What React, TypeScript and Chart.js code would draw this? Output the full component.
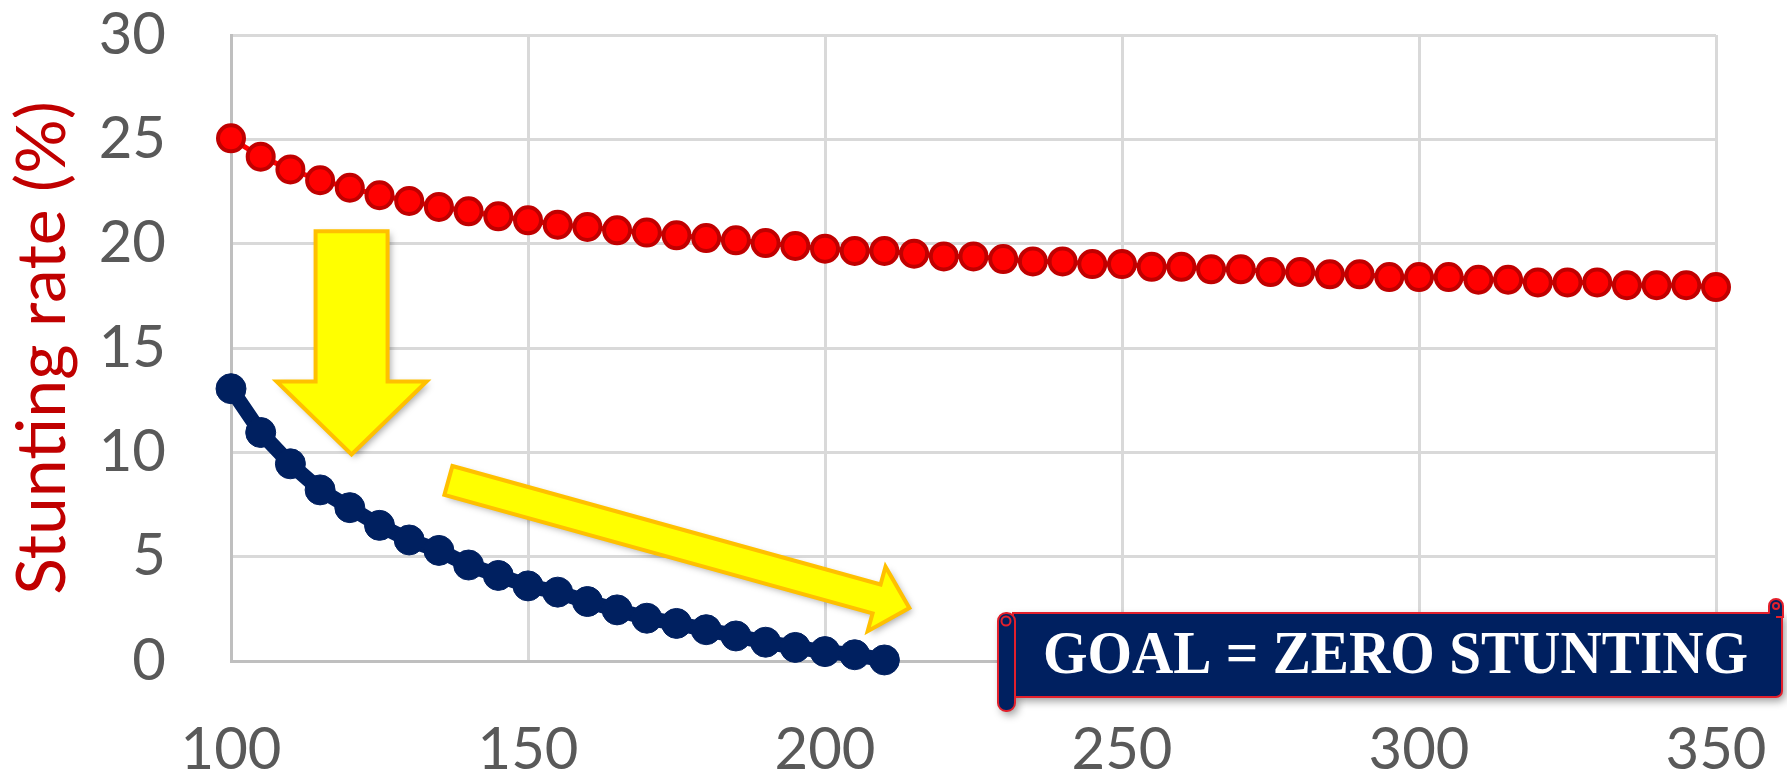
import React, { useEffect, useRef } from "react";
import { Chart, registerables } from "chart.js";

Chart.register(...registerables);

// Intervention dose on the x axis, stunting rate (%) on the y axis.
const doses = [
  100, 105, 110, 115, 120, 125, 130, 135, 140, 145, 150, 155, 160, 165, 170, 175, 180,
  185, 190, 195, 200, 205, 210, 215, 220, 225, 230, 235, 240, 245, 250, 255, 260, 265,
  270, 275, 280, 285, 290, 295, 300, 305, 310, 315, 320, 325, 330, 335, 340, 345, 350,
];
const currentRates = [
  25.05, 24.17, 23.56, 23.04, 22.68, 22.32, 22.05, 21.76, 21.55, 21.31, 21.12, 20.91,
  20.8, 20.64, 20.53, 20.4, 20.27, 20.16, 20.03, 19.89, 19.76, 19.65, 19.65, 19.52,
  19.39, 19.39, 19.26, 19.15, 19.15, 19.02, 19.02, 18.89, 18.89, 18.77, 18.77, 18.64,
  18.64, 18.53, 18.53, 18.4, 18.4, 18.4, 18.27, 18.27, 18.14, 18.14, 18.14, 18.01,
  18.01, 18.01, 17.92,
];
const targetDoses = [
  100, 105, 110, 115, 120, 125, 130, 135, 140, 145, 150, 155, 160, 165, 170, 175, 180,
  185, 190, 195, 200, 205, 210,
];
const targetRates = [
  13.05, 10.95, 9.45, 8.2, 7.35, 6.5, 5.8, 5.3, 4.6, 4.1, 3.6, 3.3, 2.85, 2.45, 2.05,
  1.8, 1.5, 1.2, 0.9, 0.65, 0.45, 0.3, 0.05,
];
const xTickValues = [100, 150, 200, 250, 300, 350];
const yTickValues = [0, 5, 10, 15, 20, 25, 30];

const Y_TITLE = "Stunting rate (%)";
const BANNER_TEXT = "GOAL = ZERO STUNTING";

const W = 1787;
const H = 780;

// Callout geometry, anchored to data coordinates where it points at the curves.
const DOWN_ARROW = { x: 120.3, top: 20.6, headBase: 13.4, tip: 9.9, shaftHalf: 36, headHalf: 75 };
const SLOPE_ARROW = { fromX: 136.6, fromY: 8.65, toX: 214.2, toY: 2.54, shaftHalf: 15, headHalf: 33.5, headLen: 34 };

const ARROW_FILL = "#FFFF00";
const ARROW_EDGE = "#FFC000";
const NAVY = "#002060";
const SCROLL_EDGE = "#E3202C";

function drawPoly(ctx: CanvasRenderingContext2D, pts: number[][]) {
  ctx.beginPath();
  ctx.moveTo(pts[0][0], pts[0][1]);
  for (let i = 1; i < pts.length; i++) ctx.lineTo(pts[i][0], pts[i][1]);
  ctx.closePath();
}

function paintArrow(ctx: CanvasRenderingContext2D, pts: number[][]) {
  ctx.save();
  ctx.shadowColor = "rgba(0,0,0,0.35)";
  ctx.shadowBlur = 7;
  ctx.shadowOffsetX = 3;
  ctx.shadowOffsetY = 3;
  drawPoly(ctx, pts);
  ctx.fillStyle = ARROW_FILL;
  ctx.fill();
  ctx.restore();
  ctx.save();
  drawPoly(ctx, pts);
  ctx.lineJoin = "miter";
  ctx.lineWidth = 4;
  ctx.strokeStyle = ARROW_EDGE;
  ctx.stroke();
  ctx.restore();
}

function roundRectPath(ctx: CanvasRenderingContext2D, x: number, y: number, w: number, h: number, r: number) {
  ctx.beginPath();
  ctx.moveTo(x + r, y);
  ctx.lineTo(x + w - r, y);
  ctx.arcTo(x + w, y, x + w, y + r, r);
  ctx.lineTo(x + w, y + h - r);
  ctx.arcTo(x + w, y + h, x + w - r, y + h, r);
  ctx.lineTo(x + r, y + h);
  ctx.arcTo(x, y + h, x, y + h - r, r);
  ctx.lineTo(x, y + r);
  ctx.arcTo(x, y, x + r, y, r);
  ctx.closePath();
}

function drawScroll(ctx: CanvasRenderingContext2D) {
  const bodyL = 1013, bodyR = 1782, bodyT = 613, bodyB = 697;
  const rollL = 998, rollR = 1015, rollB = 711;

  const bodyPath = () => {
    ctx.beginPath();
    ctx.moveTo(bodyL, bodyT);
    ctx.lineTo(bodyR, bodyT);
    ctx.lineTo(bodyR, bodyB - 6);
    ctx.arcTo(bodyR, bodyB, bodyR - 6, bodyB, 6);
    ctx.lineTo(bodyL, bodyB);
    ctx.closePath();
  };

  // soft drop shadow
  ctx.save();
  ctx.shadowColor = "rgba(0,0,0,0.4)";
  ctx.shadowBlur = 8;
  ctx.shadowOffsetX = 3;
  ctx.shadowOffsetY = 4;
  ctx.fillStyle = NAVY;
  bodyPath();
  ctx.fill();
  roundRectPath(ctx, rollL, bodyT, rollR - rollL, rollB - bodyT, 8);
  ctx.fill();
  ctx.restore();

  ctx.save();
  ctx.fillStyle = NAVY;
  ctx.strokeStyle = SCROLL_EDGE;
  ctx.lineWidth = 2;
  bodyPath();
  ctx.fill();
  ctx.stroke();

  // right curl rising above the body
  ctx.beginPath();
  ctx.moveTo(1769, bodyT);
  ctx.lineTo(1769, 606);
  ctx.arc(1776, 606, 7, Math.PI, 0);
  ctx.lineTo(1783, bodyT + 4);
  ctx.lineTo(1776, bodyT + 4);
  ctx.fill();
  ctx.stroke();
  ctx.beginPath();
  ctx.arc(1776, 606, 3, 0, Math.PI * 2);
  ctx.stroke();

  // left roll
  roundRectPath(ctx, rollL, bodyT, rollR - rollL, rollB - bodyT, 8);
  ctx.fill();
  ctx.stroke();
  ctx.beginPath();
  ctx.arc(1006, 621, 4.5, 0, Math.PI * 2);
  ctx.stroke();
  ctx.restore();

  // caption
  ctx.save();
  ctx.font = "bold 62px 'Liberation Serif', 'DejaVu Serif', serif";
  ctx.fillStyle = "#FFFFFF";
  ctx.textBaseline = "middle";
  ctx.textAlign = "center";
  const target = 705;
  const measured = ctx.measureText(BANNER_TEXT).width;
  const sx = target / measured;
  ctx.translate(1395.5, 657);
  ctx.scale(sx, 1);
  ctx.fillText(BANNER_TEXT, 0, 0);
  ctx.restore();
}

const calloutPlugin = {
  id: "callouts",
  afterDatasetsDraw(chart: any) {
    const { ctx } = chart;
    const xs = chart.scales.x;
    const ys = chart.scales.y;

    // vertical arrow
    const cx = xs.getPixelForValue(DOWN_ARROW.x);
    const top = ys.getPixelForValue(DOWN_ARROW.top);
    const hb = ys.getPixelForValue(DOWN_ARROW.headBase);
    const tip = ys.getPixelForValue(DOWN_ARROW.tip);
    const sh = DOWN_ARROW.shaftHalf;
    const hh = DOWN_ARROW.headHalf;
    paintArrow(ctx, [
      [cx - sh, top], [cx + sh, top], [cx + sh, hb], [cx + hh, hb],
      [cx, tip], [cx - hh, hb], [cx - sh, hb],
    ]);

    // slanted arrow
    const ax = xs.getPixelForValue(SLOPE_ARROW.fromX);
    const ay = ys.getPixelForValue(SLOPE_ARROW.fromY);
    const bx = xs.getPixelForValue(SLOPE_ARROW.toX);
    const by = ys.getPixelForValue(SLOPE_ARROW.toY);
    const len = Math.hypot(bx - ax, by - ay);
    const ux = (bx - ax) / len, uy = (by - ay) / len;
    const nx = -uy, ny = ux;
    const hx = bx - ux * SLOPE_ARROW.headLen, hy = by - uy * SLOPE_ARROW.headLen;
    const s2 = SLOPE_ARROW.shaftHalf, h2 = SLOPE_ARROW.headHalf;
    paintArrow(ctx, [
      [ax - nx * s2, ay - ny * s2],
      [hx - nx * s2, hy - ny * s2],
      [hx - nx * h2, hy - ny * h2],
      [bx, by],
      [hx + nx * h2, hy + ny * h2],
      [hx + nx * s2, hy + ny * s2],
      [ax + nx * s2, ay + ny * s2],
    ]);

    drawScroll(ctx);
  },
};

export default function App() {
  const canvasRef = useRef<HTMLCanvasElement | null>(null);

  useEffect(() => {
    const canvas = canvasRef.current;
    if (!canvas) return;

    const chart = new Chart(canvas, {
      type: "line",
      data: {
        datasets: [
          {
            label: "current",
            data: doses.map((d, i) => ({ x: d, y: currentRates[i] })),
            borderColor: "#FF0000",
            borderWidth: 5,
            pointRadius: 13,
            pointBorderWidth: 4,
            pointBackgroundColor: "#FF0000",
            pointBorderColor: "#C00000",
            tension: 0,
            clip: false as any,
          },
          {
            label: "goal",
            data: targetDoses.map((d, i) => ({ x: d, y: targetRates[i] })),
            borderColor: NAVY,
            borderWidth: 15,
            pointRadius: 15,
            pointBorderWidth: 1,
            pointBackgroundColor: NAVY,
            pointBorderColor: NAVY,
            tension: 0,
            clip: false as any,
          },
        ],
      },
      options: {
        responsive: false,
        devicePixelRatio: 1,
        animation: false,
        events: [],
        layout: { padding: { top: 35, right: 71, left: 0, bottom: 0 } },
        plugins: {
          legend: { display: false },
          tooltip: { enabled: false },
        },
        font: { family: "Lato, 'Open Sans', sans-serif" } as any,
        scales: {
          x: {
            type: "linear",
            min: 100,
            max: 350,
            afterBuildTicks: (s: any) => {
              s.ticks = xTickValues.map((v) => ({ value: v }));
            },
            afterFit: (s: any) => {
              s.height = 119;
              s.paddingLeft = 0;
              s.paddingRight = 0;
            },
            grid: { color: "#D9D9D9", lineWidth: 3, drawTicks: false },
            border: { color: "#BFBFBF", width: 3 },
            ticks: {
              padding: 54,
              color: "#595959",
              font: { family: "Lato", size: 58 },
              maxRotation: 0,
            },
          },
          y: {
            type: "linear",
            min: 0,
            max: 30,
            afterBuildTicks: (s: any) => {
              s.ticks = yTickValues.map((v) => ({ value: v }));
            },
            afterFit: (s: any) => {
              s.width = 231;
              s.paddingTop = 0;
              s.paddingBottom = 0;
            },
            grid: { color: "#D9D9D9", lineWidth: 3, drawTicks: false },
            border: { color: "#BFBFBF", width: 3 },
            ticks: {
              padding: 65,
              color: "#595959",
              font: { family: "Lato", size: 58 },
            },
            title: {
              display: true,
              text: Y_TITLE,
              color: "#C00000",
              font: { family: "Lato", size: 68 },
              padding: { top: 2, bottom: 0 },
            },
          },
        },
      },
      plugins: [calloutPlugin],
    });

    return () => chart.destroy();
  }, []);

  return (
    <div style={{ position: "absolute", left: 0, top: 0, width: W, height: H, background: "#FFFFFF" }}>
      <canvas ref={canvasRef} width={W} height={H} style={{ display: "block", width: W, height: H }} />
    </div>
  );
}
